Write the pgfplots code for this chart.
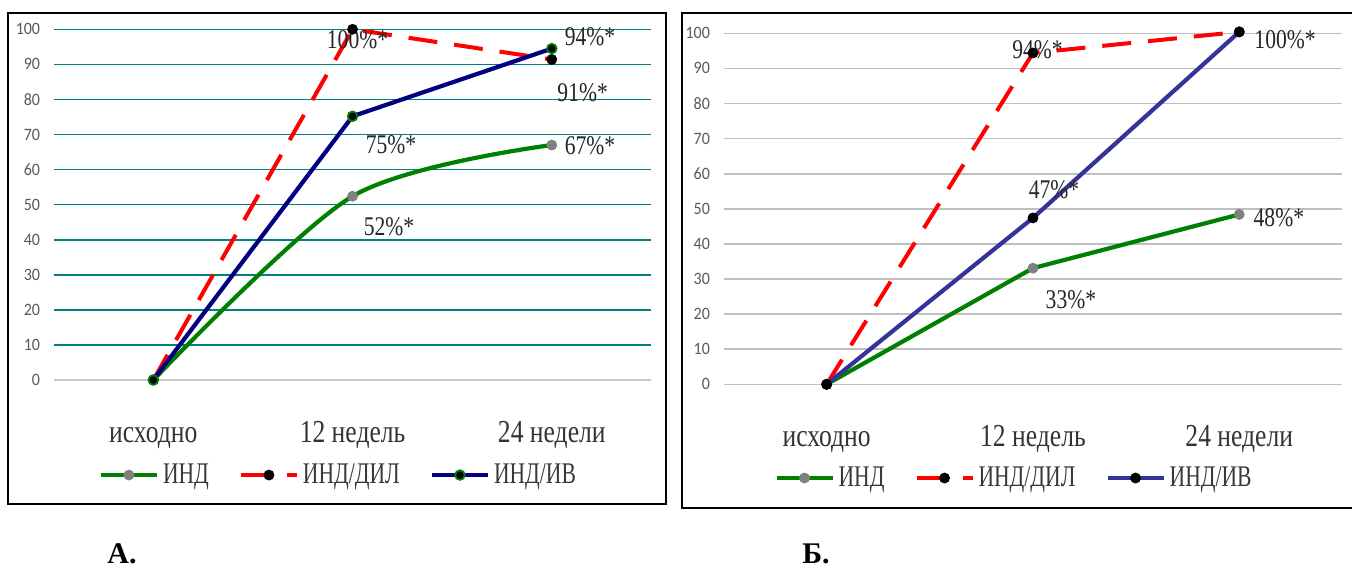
\documentclass[border=0pt]{standalone}
\usepackage{pgfplots}
\pgfplotsset{compat=1.18}
\usepackage{fontspec}
\setmainfont{Liberation Serif}
\newfontfamily\tnr[FakeStretch=0.8]{Liberation Serif}
\newfontfamily\tnrl[FakeStretch=0.72]{Liberation Serif}
\newfontfamily\calib[FakeStretch=0.92]{Carlito}
\definecolor{cgreen}{RGB}{0,128,0}
\definecolor{cred}{RGB}{255,0,0}
\definecolor{cnavy}{RGB}{0,0,128}
\definecolor{cblue}{RGB}{51,51,153}
\definecolor{cgray}{RGB}{128,128,128}
\definecolor{tealg}{RGB}{0,128,128}
\definecolor{gridg}{RGB}{191,191,191}
\definecolor{zerog}{RGB}{200,200,200}
\definecolor{ticktxt}{RGB}{89,89,89}

\tikzset{lbl/.style={anchor=base, inner sep=0pt, font=\tnr\fontsize{13.5}{16}\selectfont, text=black!85}}

\pgfplotsset{
  common/.style={
    scale only axis,
    clip=false,
    xmin=-0.5, xmax=2.5, ymin=0, ymax=100,
    axis line style={draw=none},
    major tick length=0pt,
    xtick={0,1,2},
    xticklabels={исходно, 12 недель, 24 недели},
    ytick={10,20,...,100},
    extra y ticks={0},
    ymajorgrids,
    /pgf/number format/assume math mode=true,
    yticklabel style={anchor=east, inner sep=0pt, xshift=-6.6pt,
      font=\calib\fontsize{8.7}{10}\selectfont, text=ticktxt},
    xticklabel style={anchor=base, inner sep=0pt, yshift=-31pt,
      font=\tnr\fontsize{16}{19}\selectfont, text=black!80},
    legend columns=3,
    legend style={draw=none, fill=none, anchor=center, inner sep=0pt,
      font=\tnrl\fontsize{15}{18}\selectfont, text=black!78,
      /tikz/every even column/.append style={column sep=13pt}},
    legend image code/.code={\draw[mark repeat=2,mark phase=2] plot coordinates {(0pt,0pt) (14pt,0pt) (28pt,0pt)};},
  },
}

\begin{document}
\begin{tikzpicture}
\useasboundingbox (0,0) rectangle (676pt,-284.5pt);
% frames
\draw[line width=1.1pt] (4pt,-6.35pt) rectangle (333pt,-252.15pt);
\draw[line width=1.1pt] (680pt,-6.35pt) -| (341pt,-253.85pt) -- (680pt,-253.85pt);

% Panel A
\begin{axis}[common,
  at={(26.85pt,-190pt)}, anchor=south west,
  width=298.85pt, height=175.35pt,
  grid style={tealg, line width=0.8pt},
  extra y tick style={grid style={zerog, line width=0.8pt}},
  legend style={at={(0.478,-0.271)}},
]
\addplot[cgreen, line width=2.1pt, smooth, tension=0.5, mark=*, mark size=2.5pt,
  mark options={fill=cgray, draw=cgray, line width=0.4pt, solid}]
  coordinates {(0,0) (1,52.4) (2,67)};
\addlegendentry{ИНД}
\addplot[cred, line width=2pt, dash pattern=on 14.5pt off 8.5pt, mark=*, mark size=2.5pt,
  mark options={fill=black, draw=black, line width=0.4pt, solid}]
  coordinates {(0,0) (1,100) (2,91.4)};
\addlegendentry{ИНД/ДИЛ}
\addplot[cnavy, line width=2.1pt, mark=*, mark size=2.4pt,
  mark options={fill=black, draw=cgreen, line width=0.9pt, solid}]
  coordinates {(0,0) (1,75.2) (2,94.5)};
\addlegendentry{ИНД/ИВ}
\node[lbl] at (axis cs:1.025,94.6) {100\%*};
\node[lbl] at (axis cs:2.192,95.5) {94\%*};
\node[lbl] at (axis cs:2.155,79.4) {91\%*};
\node[lbl] at (axis cs:1.193,64.6) {75\%*};
\node[lbl] at (axis cs:2.192,64.2) {67\%*};
\node[lbl] at (axis cs:1.183,41.3) {52\%*};
\end{axis}

% Panel B
\begin{axis}[common,
  at={(361.75pt,-192.15pt)}, anchor=south west,
  width=309.45pt, height=175.5pt,
  grid style={gridg, line width=0.8pt},
  extra y tick style={grid style={gridg, line width=0.8pt}},
  legend style={at={(0.471,-0.267)}},
]
\addplot[cgreen, line width=2.1pt, mark=*, mark size=2.5pt,
  mark options={fill=cgray, draw=cgray, line width=0.4pt, solid}]
  coordinates {(0,0) (1,33.1) (2,48.4)};
\addlegendentry{ИНД}
\addplot[cred, line width=2pt, dash pattern=on 14.5pt off 8.5pt, mark=*, mark size=2.5pt,
  mark options={fill=black, draw=black, line width=0.4pt, solid}]
  coordinates {(0,0) (1,94.4) (2,100.4)};
\addlegendentry{ИНД/ДИЛ}
\addplot[cblue, line width=2.1pt, mark=*, mark size=2.5pt,
  mark options={fill=black, draw=black, line width=0.4pt, solid}]
  coordinates {(0,0) (1,47.4) (2,100.4)};
\addlegendentry{ИНД/ИВ}
\node[lbl] at (axis cs:1.022,92.9) {94\%*};
\node[lbl] at (axis cs:2.222,95.7) {100\%*};
\node[lbl] at (axis cs:1.102,52.8) {47\%*};
\node[lbl] at (axis cs:2.192,45.1) {48\%*};
\node[lbl] at (axis cs:1.184,21.7) {33\%*};
\end{axis}

\node[anchor=base west, inner sep=0pt, text depth=0pt, font=\bfseries\fontsize{15}{18}\selectfont] at (53.5pt,-281.5pt) {А.};
\node[anchor=base west, inner sep=0pt, text depth=0pt, font=\bfseries\fontsize{15}{18}\selectfont] at (401pt,-281.5pt) {Б.};
\end{tikzpicture}
\end{document}
